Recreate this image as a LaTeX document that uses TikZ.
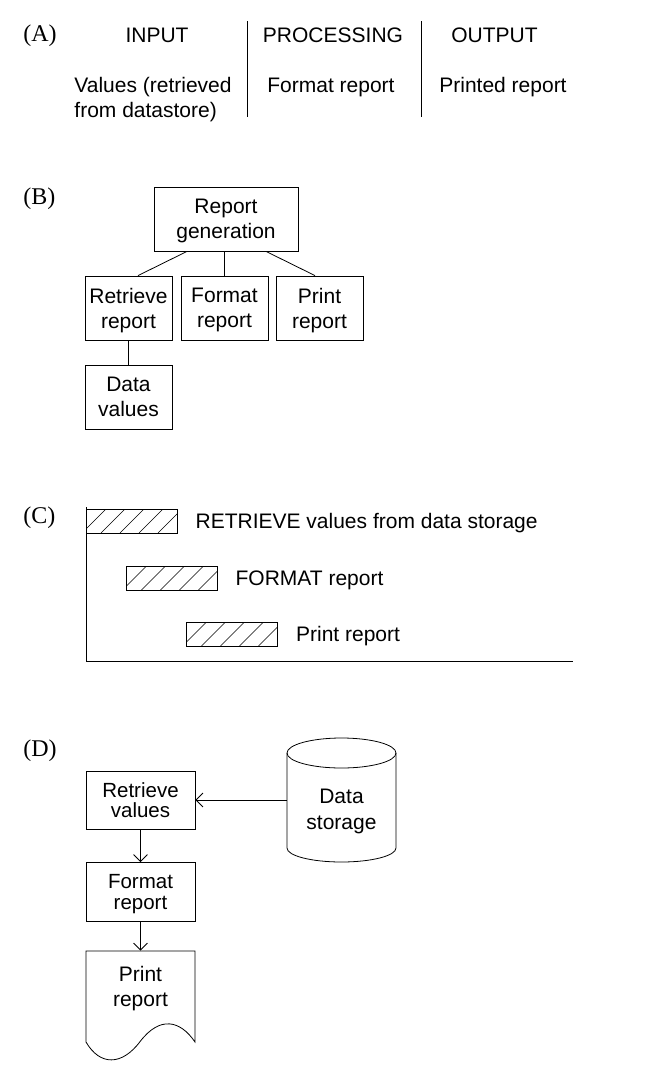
\documentclass[tikz,border=0pt]{standalone}
\usepackage{fontspec}
\setmainfont{Liberation Serif}
\setsansfont{Liberation Sans}
\usetikzlibrary{arrows.meta,positioning}

\begin{document}
\begin{tikzpicture}[x=1pt,y=-1pt,line width=0.8pt,
    every node/.style={font=\sffamily\fontsize{21}{25}\selectfont,text depth=0pt},
    part/.style={font=\rmfamily\fontsize{24}{28}\selectfont,anchor=base west,inner sep=0pt},
    box/.style={draw,align=center,inner sep=0pt},
    dbox/.style={box,font=\sffamily\fontsize{20.5}{20.5}\selectfont,minimum width=109pt},
    bar/.style={draw,minimum width=91pt,minimum height=24pt,inner sep=0pt,
      path picture={\foreach \k in {-1,...,5}
        \draw[line width=0.6pt] ([xshift=19*\k pt-4pt]path picture bounding box.south west) -- ++(30pt,30pt);}},
    >={Straight Barb[length=7pt,width=14pt]}]
  \useasboundingbox (0,0) rectangle (646,1090);

  % (A) input / processing / output
  \node[part] (labA) at (23,41) {(A)};
  \node[anchor=base] (inp) at (157,42) {INPUT};
  \node[anchor=base] (proc) at (333,42) {PROCESSING};
  \node[anchor=base] (outp) at (494.5,42) {OUTPUT};
  \node[anchor=north west,align=left] (vals) at (70.7,73.4) {Values (retrieved\\from datastore)};
  \node[anchor=base] (fmt) at (331,92) {Format report};
  \node[anchor=base] (prt) at (503,92) {Printed report};
  \draw (247,21) -- (247,117);
  \draw (421,21) -- (421,117);

  % (B) structure chart
  \node[part] (labB) at (23,204) {(B)};
  \node[box,minimum width=144pt,minimum height=64pt] (gen) at (226,219) {Report\\generation};
  \node[box,minimum width=87pt,minimum height=64pt] (rrep) at (128.5,308) {Retrieve\\report};
  \node[box,minimum width=87pt,minimum height=64pt] (frep) at (224.5,308) {Format\\report};
  \node[box,minimum width=87pt,minimum height=64pt] (prep) at (319.5,308) {Print\\report};
  \node[box,minimum width=87pt,minimum height=64pt] (dval) at (128.5,397) {Data\\values};
  \draw ([xshift=-39pt]gen.south) -- ([xshift=9.5pt]rrep.north);
  \draw (frep.north |- gen.south) -- (frep.north);
  \draw ([xshift=40pt]gen.south) -- ([xshift=-4.5pt]prep.north);
  \draw (rrep) -- (dval);

  % (C) bar chart
  \node[part] (labC) at (23,523) {(C)};
  \draw (86,507) -- (86,661) -- (573,661);
  \node[bar] (bar1) at (131.5,521) {};
  \node[bar] (bar2) at (171.5,578.5) {};
  \node[bar] (bar3) at (232,634) {};
  \node[right=14.5pt of bar1] (t1) {RETRIEVE values from data storage};
  \node[right=14.5pt of bar2] (t2) {FORMAT report};
  \node[right=14.5pt of bar3] (t3) {Print report};

  % (D) flowchart
  \node[part] (labD) at (23,756) {(D)};
  \node[dbox,minimum height=58pt] (retr) at (140.5,800) {Retrieve\\values};
  \node[dbox,minimum height=59pt] (frmt) at (140.5,892) {Format\\report};
  \node[align=center,inner sep=0pt,minimum width=109pt,minimum height=70pt] (print) at (140.5,986) {Print\\report};
  \draw (86,1042) -- (86,951) -- (195,951) -- (195,1042)
    .. controls (180,1020) and (160,1016) .. (140.5,1041)
    .. controls (122,1066) and (100,1066) .. (86,1042) -- cycle;
  \node[align=center,inner sep=0pt,minimum width=109pt,font=\sffamily\fontsize{21}{26}\selectfont] (store) at (341.5,809) {Data\\storage};
  \draw (287,753) -- (287,848) arc[start angle=180,end angle=360,x radius=54.5pt,y radius=14pt] -- (396,753);
  \draw (341.5,753) ellipse[x radius=54.5pt,y radius=15pt];
  \draw[->] (store.west |- retr.east) -- (retr.east);
  \draw[->] (retr) -- (frmt);
  \draw[->] (frmt) -- (print.north);
\end{tikzpicture}
\end{document}
